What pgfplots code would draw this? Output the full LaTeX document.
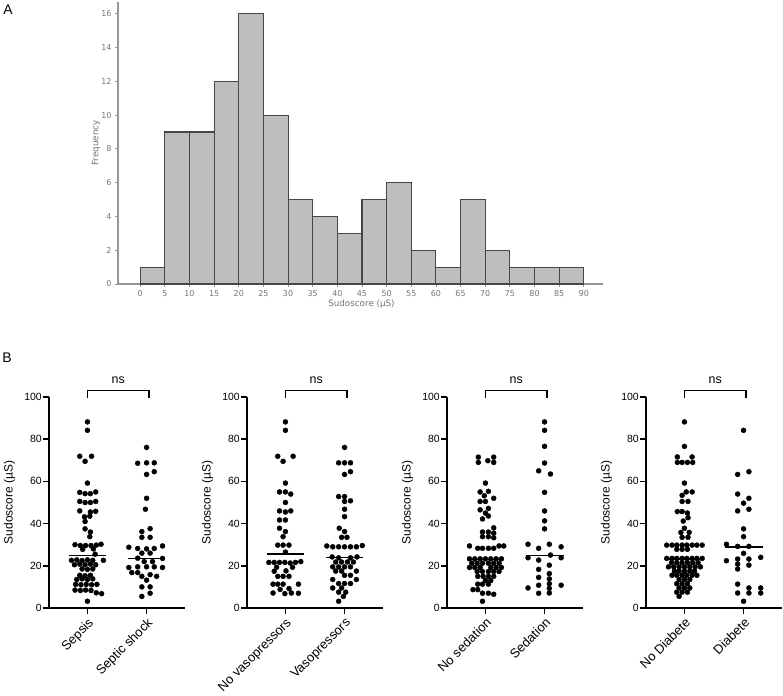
\documentclass[border=0pt]{standalone}
\usepackage{fontspec}
\setmainfont{Liberation Sans}
\newfontfamily\dejavu{DejaVu Sans}
\usepackage{pgfplots}
\usepackage{pgfplotstable}
\pgfplotsset{compat=1.18}

\definecolor{axgray}{RGB}{150,150,150}
\definecolor{labgray}{RGB}{115,115,115}
\definecolor{barfill}{RGB}{190,190,190}
\definecolor{baredge}{RGB}{70,70,70}

% Sudoscore per patient, split by clinical group (x = group index + swarm offset)
\pgfplotstableread{
x y
0 88.2
0 84.2
-0.13 71.9
0.07 71.9
-0.04 69.5
0 59.2
-0.13 54.8
-0.04 54.2
0.05 54.2
0.14 55.0
-0.13 50.5
-0.04 50.0
0.05 50.0
0.14 50.5
-0.13 46.0
0.05 45.5
0.14 45.8
-0.05 43.2
0.04 43.5
-0.04 41.0
-0.04 37.5
0.05 36.0
0.04 33.8
-0.21 30.0
-0.12 29.6
-0.03 29.6
0.06 29.6
0.15 29.8
0.23 30.2
-0.08 27.8
0.10 28.0
0.13 25.5
-0.27 22.6
-0.18 22.8
-0.09 22.5
0.00 22.8
0.09 22.6
0.27 22.6
-0.22 20.5
-0.13 20.8
-0.04 20.5
0.05 20.8
0.14 20.5
-0.09 18.5
0.00 18.3
0.09 18.5
-0.13 15.5
-0.04 15.3
0.05 15.5
-0.18 13.5
-0.09 13.8
0.00 13.5
0.09 13.8
-0.20 11.2
-0.11 11.0
-0.02 11.2
0.07 11.0
0.16 11.2
-0.21 8.5
-0.12 8.3
-0.03 8.5
0.06 8.3
0.15 7.2
0.24 6.8
0 3.2
1 76.1
0.85 68.6
1 68.8
1.13 68.8
1.13 64.6
1 63.3
1 52
0.98 46.8
1.06 37.6
0.92 36.2
0.92 33.5
1.06 33.5
0.70 28.8
1.27 29.4
0.85 28.2
1 28
1.13 28.2
0.92 26
1.06 26
0.85 23.6
1.27 23.5
0.96 22
1.10 22
0.70 19.2
0.85 19.5
1.00 19.5
1.13 19.5
1.27 19.2
0.75 16.8
0.85 16.8
0.92 15.0
1.06 15.8
1.17 15.0
1.00 13.2
0.92 10.0
1.06 10.0
1.06 7.0
0.92 5.5
}\sepsistab

\pgfplotstableread{
x y
0 88.2
0 84.2
-0.13 71.9
0.13 71.9
-0.04 69.5
0 59.2
-0.10 55
0 55
0.09 54
0 50
-0.10 46
0 45.5
0.09 46
-0.10 41.7
0 41.7
-0.10 37.8
0 36.2
-0.04 33.8
-0.13 29.8
-0.04 29.8
0.06 29.8
0 26.5
-0.28 21.6
-0.19 21.6
-0.10 21.6
-0.01 21.6
0.08 21.3
0.17 21.6
0.26 22
-0.15 19.3
0.12 19.3
-0.19 17.4
0.01 17.6
-0.13 15
-0.04 15
0.06 15
-0.21 11.3
-0.13 11.3
-0.04 11.3
0.22 11.3
-0.09 8.8
0.06 9.2
-0.21 7.1
-0.01 6.8
0.10 7.1
0.22 7
1 76.1
0.90 68.8
1 68.8
1.10 68.8
1 63.3
1.10 64.6
0.90 52.8
1 52.8
1 50.5
1.10 50.8
1 46.8
1 43.3
0.91 37.8
1 36.2
0.95 33.5
1.04 33.5
0.70 29.4
0.80 29
0.90 29
1 29
1.10 29
1.20 29
1.30 29.6
0.79 24.2
0.90 23.8
1.10 23.8
1.21 24.2
0.85 21.8
0.95 21.8
1.05 21.8
1.15 21.8
0.80 19.5
0.90 19.5
1.00 19.5
1.10 19.5
0.85 17.5
0.95 17.5
1.20 17.5
1.00 15.5
1.10 15.5
0.80 13.5
1.20 13.5
0.90 11.6
1.00 11.6
1.10 11.6
0.80 9.5
0.95 9.5
0.90 7.5
1.02 7.5
0.98 5.5
0.90 3.2
}\vasotab

\pgfplotstableread{
x y
-0.12 71.5
-0.12 69
0.04 69.8
0.14 71.5
0.14 69
0 59.2
-0.09 55
0.05 55.3
-0.02 53.2
0.14 52
-0.09 50.5
0.00 50.5
-0.09 46.5
0.05 47.2
0 45
-0.05 42.2
0.05 43.6
0.14 38
-0.05 36
0.05 36
0.14 35.5
-0.05 33.8
0.05 33.8
0.14 33.3
-0.27 29.4
0.23 29.4
0.31 29.4
-0.13 28.3
-0.05 28.3
0.05 28.3
0.14 28.3
-0.27 23.3
-0.18 23.3
-0.09 23.3
0 23.3
0.09 23.3
0.18 23.3
0.27 23.3
-0.23 21.2
-0.14 21.2
-0.05 21.2
0.05 21.2
0.14 21.2
0.23 21.2
-0.27 19.2
-0.18 19.2
-0.09 19.2
0.09 19.2
0.18 19.2
0.27 19.2
-0.14 17.3
-0.05 17.3
0.05 17.3
0.14 17.3
0.23 17.3
-0.13 15
-0.04 15
0.05 15
0.14 15
0 13
0.09 13
-0.13 11.3
-0.05 11.3
0.05 11.3
-0.21 8.7
-0.13 8.7
-0.05 7
0.05 7
0.14 6.5
-0.05 3.2
1 88.2
1 84.2
1 76.6
1 68.7
0.90 65
1.10 63.5
1 54.8
1 46
1 41.3
1 37.5
0.72 30.2
1.08 30.2
1.28 29
0.90 28.3
1.10 25.1
0.72 23.8
1.28 23.8
0.90 22.7
1.08 20.3
0.90 18.3
1.08 16.3
0.90 14.5
1.08 13.8
1.08 11.5
1.28 10.8
0.90 10.8
0.72 9.5
1.08 9.3
0.90 7
1.08 7.1
}\sedationtab

\pgfplotstableread{
x y
0 88.2
0 76.6
-0.12 71.6
0.13 71.6
-0.12 69
-0.04 69
0.05 69
0.14 69
0 59.2
0.03 55
0.13 55
-0.04 53.4
-0.04 50.5
0.06 50.5
-0.12 45.7
-0.04 45.7
0.05 45
0.06 42.8
-0.02 41.2
0 37.8
-0.06 35.8
0.08 35.8
-0.04 33.5
0.06 33.5
-0.30 29.8
-0.21 29.8
-0.13 29.8
-0.04 29.8
0.04 29.8
0.13 29.8
0.21 29.8
0.30 29.8
-0.13 27.8
-0.04 27.8
0.05 27.8
-0.30 23.5
-0.21 23.5
-0.13 23.5
-0.04 23.5
0.04 23.5
0.13 23.5
0.21 23.5
0.30 23.5
-0.22 21.5
-0.13 21.5
-0.04 21.5
0.05 21.5
0.14 21.5
0.23 21.5
-0.27 19.5
-0.18 19.5
-0.09 19.5
0 19.5
0.09 19.5
0.18 19.5
0.27 19.5
-0.17 17.5
-0.09 17.5
0 17.5
0.09 17.5
0.17 17.5
-0.21 15.5
-0.13 15.5
-0.04 15.5
0.04 15.5
0.13 15.5
0.21 15.5
-0.09 13.5
0 13.5
0.09 13.5
-0.13 11.5
-0.04 11.5
0.05 11.5
-0.09 9.5
0 9.5
0.09 9.5
-0.13 7.5
-0.04 7.5
0.05 7.5
-0.09 5.5
1 84.2
1.09 64.6
0.90 63.3
0.90 54
1.09 52
1 49.7
1.09 46.8
0.90 46
1 37.5
1 33.8
0.71 30.2
0.90 29.2
1.09 29.2
1 25.9
1.29 24
0.90 23.2
1.09 23.2
0.71 22.4
0.90 20.8
1.09 20.3
0.90 18.5
0.90 11.3
1.09 9.5
1.29 9.5
0.90 7.1
1.09 7.1
1.29 7.1
1 3.2
}\diabetetab

\pgfplotsset{
  swarm/.style={
    scale only axis, width=136bp, height=211bp,
    xmin=-0.65, xmax=1.65, ymin=0, ymax=100,
    axis lines=left, axis line style={-, line width=1.5bp, black},
    xtick={0,1}, ytick={0,20,...,100},
    tick align=outside, major tick length=6bp,
    tick style={line width=1.5bp, black},
    /pgf/number format/assume math mode=true,
    yticklabel style={font=\fontsize{10.5}{12}\selectfont, inner sep=1bp},
    xticklabel style={rotate=45, anchor=north east, font=\fontsize{13}{15}\selectfont, inner sep=2bp},
    ylabel={Sudoscore (µS)},
    ylabel style={font=\fontsize{12}{14}\selectfont, at={(axis description cs:-0.29,0.5)}, anchor=center},
    clip=false,
  },
  median/.style={no marks, line width=1.4bp, color=black},
  dots/.style={only marks, mark=*, mark size=2.5bp, color=black},
  bracket/.style={no marks, line width=1.5bp, color=black},
}

\begin{document}
\begin{tikzpicture}[x=1bp, y=1bp]
\useasboundingbox (0,0) rectangle (783,696);

% ---- A: histogram of sudoscores
\begin{axis}[
  at={(118bp,412bp)}, anchor=south west,
  scale only axis, width=485bp, height=282bp,
  xmin=-4.5, xmax=93.9, ymin=0, ymax=16.7,
  axis lines=left, axis line style={-, draw=axgray, line width=1.3bp},
  xtick={0,5,...,90}, ytick={0,2,...,16},
  tick align=outside, major tick length=3bp,
  tick style={draw=axgray, line width=0.8bp},
  /pgf/number format/assume math mode=true,
  ticklabel style={font=\dejavu\fontsize{8}{9}\selectfont, text=labgray},
  xlabel={Sudoscore (µS)}, ylabel={Frequency},
  label style={font=\dejavu\fontsize{8.8}{10}\selectfont, text=labgray},
  xlabel style={at={(axis description cs:0.502,-0.07)}, anchor=center},
  ylabel style={at={(axis description cs:-0.045,0.5)}, anchor=center},
  clip=false,
]
\addplot[ybar interval, fill=barfill, draw=baredge, line width=1.1bp] coordinates {
  (0,1) (5,9) (10,9) (15,12) (20,16) (25,10) (30,5) (35,4) (40,3)
  (45,5) (50,6) (55,2) (60,1) (65,5) (70,2) (75,1) (80,1) (85,1) (90,1)};
\end{axis}

% ---- B: scatter dot plots with medians
\begin{axis}[swarm, at={(49bp,88bp)}, anchor=south west,
  xticklabels={Sepsis, Septic shock}]
  \addplot[median] coordinates {(-0.32,24.8) (0.32,24.8)};
  \addplot[median] coordinates {(0.68,23.5) (1.32,23.5)};
  \addplot[dots] table[x=x, y=y] {\sepsistab};
  \addplot[bracket] coordinates {(0,99.3) (0,103) (1.04,103) (1.04,99.3)};
  \node[font=\fontsize{12.5}{14}\selectfont] at (axis cs:0.52,108) {ns};
\end{axis}

\begin{axis}[swarm, at={(247bp,88bp)}, anchor=south west,
  xticklabels={No vasopressors, Vasopressors}]
  \addplot[median] coordinates {(-0.32,25.5) (0.32,25.5)};
  \addplot[median] coordinates {(0.68,23.8) (1.32,23.8)};
  \addplot[dots] table[x=x, y=y] {\vasotab};
  \addplot[bracket] coordinates {(0,99.3) (0,103) (1.04,103) (1.04,99.3)};
  \node[font=\fontsize{12.5}{14}\selectfont] at (axis cs:0.52,108) {ns};
\end{axis}

\begin{axis}[swarm, at={(447bp,88bp)}, anchor=south west,
  xticklabels={No sedation, Sedation}]
  \addplot[median] coordinates {(-0.32,23) (0.32,23)};
  \addplot[median] coordinates {(0.68,24.9) (1.32,24.9)};
  \addplot[dots] table[x=x, y=y] {\sedationtab};
  \addplot[bracket] coordinates {(0,99.3) (0,103) (1.04,103) (1.04,99.3)};
  \node[font=\fontsize{12.5}{14}\selectfont] at (axis cs:0.52,108) {ns};
\end{axis}

\begin{axis}[swarm, at={(646bp,88bp)}, anchor=south west,
  xticklabels={No Diabete, Diabete}]
  \addplot[median] coordinates {(-0.32,23.2) (0.32,23.2)};
  \addplot[median] coordinates {(0.68,29) (1.32,29)};
  \addplot[dots] table[x=x, y=y] {\diabetetab};
  \addplot[bracket] coordinates {(0,99.3) (0,103) (1.04,103) (1.04,99.3)};
  \node[font=\fontsize{12.5}{14}\selectfont] at (axis cs:0.52,108) {ns};
\end{axis}

\node[font=\fontsize{14}{16}\selectfont] at (8,686) {A};
\node[font=\fontsize{14}{16}\selectfont] at (7,338) {B};
\end{tikzpicture}
\end{document}
